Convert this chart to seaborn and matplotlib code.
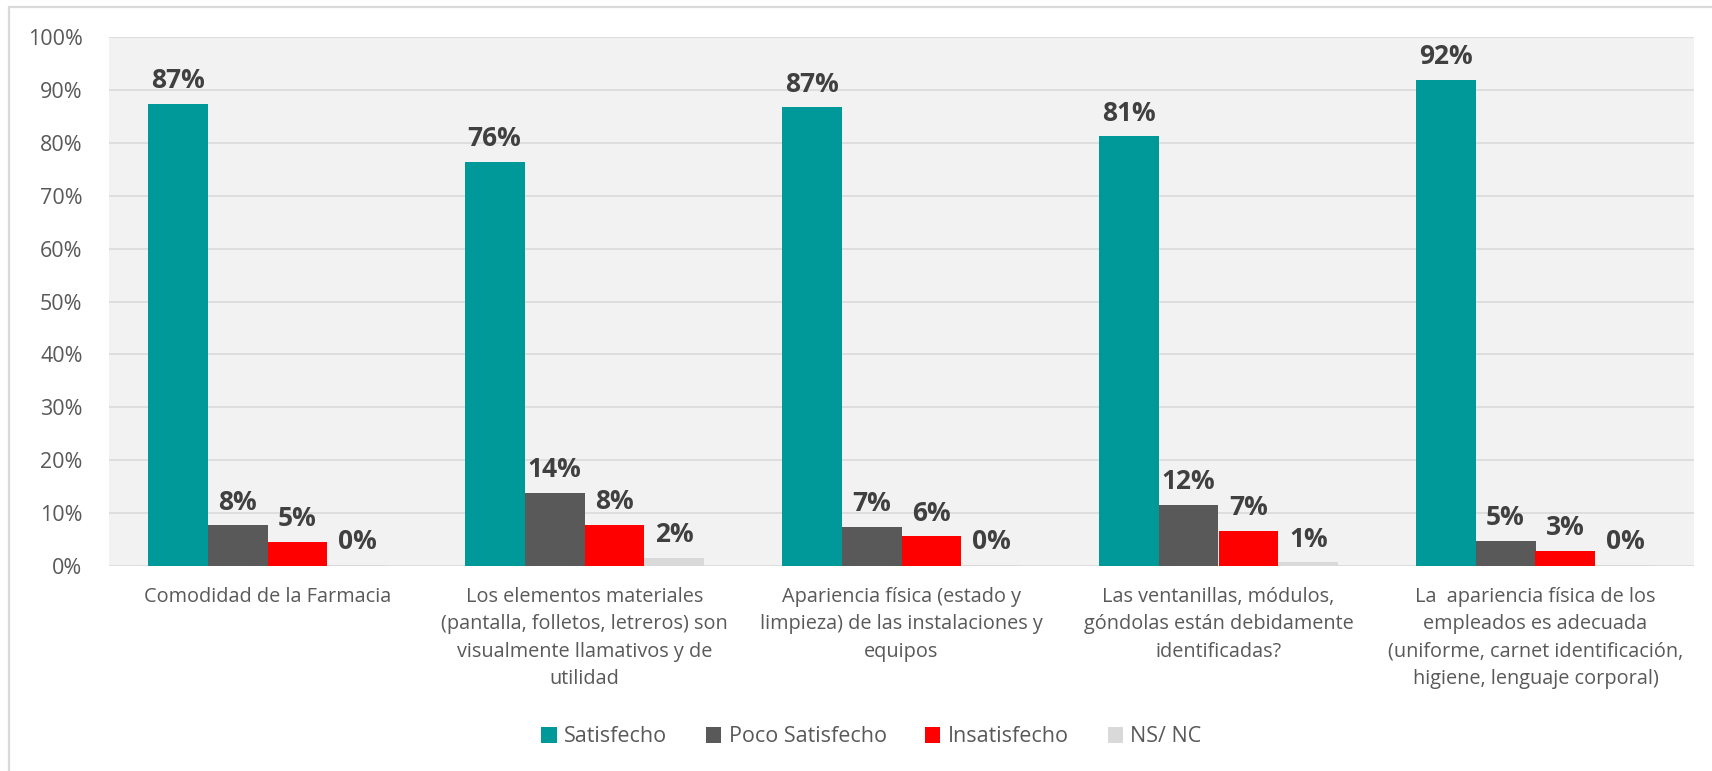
import matplotlib
matplotlib.use("Agg")
import matplotlib.pyplot as plt
from matplotlib.patches import Patch, Rectangle
from matplotlib.ticker import FuncFormatter
import pandas as pd
import seaborn as sns

# Survey items (category axis), wrapped as they appear under each group
categories = [
    "Comodidad de la Farmacia",
    "Los elementos materiales\n(pantalla, folletos, letreros) son\nvisualmente llamativos y de\nutilidad",
    "Apariencia física (estado y\nlimpieza) de las instalaciones y\nequipos",
    "Las ventanillas, módulos,\ngóndolas están debidamente\nidentificadas?",
    "La  apariencia física de los\nempleados es adecuada\n(uniforme, carnet identificación,\nhigiene, lenguaje corporal)",
]

series_names = ["Satisfecho", "Poco Satisfecho", "Insatisfecho", "NS/ NC"]

# Percent of respondents per answer
satisfecho = [87.3, 76.4, 86.7, 81.2, 91.9]
poco_satisfecho = [7.7, 13.8, 7.4, 11.5, 4.7]
insatisfecho = [4.6, 7.8, 5.6, 6.6, 2.9]
ns_nc = [0.2, 1.5, 0.2, 0.7, 0.2]

y_ticks = [0, 10, 20, 30, 40, 50, 60, 70, 80, 90, 100]

colors = ["#009999", "#595959", "#FF0000", "#D9D9D9"]

records = []
for name, vals in zip(series_names, [satisfecho, poco_satisfecho, insatisfecho, ns_nc]):
    for cat, v in zip(categories, vals):
        records.append({"Pregunta": cat, "Respuesta": name, "Porcentaje": v})
df = pd.DataFrame(records)

sns.set_theme(style="white")
plt.rcParams["font.family"] = ["Open Sans", "DejaVu Sans"]

W, H = 1712, 771
fig = plt.figure(figsize=(W / 100, H / 100), dpi=100)
ax = fig.add_axes([109 / W, 1 - 566 / H, (1694 - 109) / W, (566 - 37) / H])

sns.barplot(
    data=df, x="Pregunta", y="Porcentaje", hue="Respuesta",
    order=categories, hue_order=series_names, palette=colors,
    width=0.757, errorbar=None, saturation=1, ax=ax, legend=False,
    linewidth=0,
)

ax.set_facecolor("#F2F2F2")
ax.set_ylim(0, 100)
ax.set_xlim(-0.5, len(categories) - 0.5)
ax.set_yticks(y_ticks)
ax.yaxis.set_major_formatter(FuncFormatter(lambda v, _: f"{v:.0f}%"))
ax.grid(axis="y", color="#D9D9D9", linewidth=1.1)
ax.grid(axis="x", visible=False)
ax.set_axisbelow(True)
for s in ax.spines.values():
    s.set_visible(False)
ax.set_xlabel("")
ax.set_ylabel("")
ax.tick_params(axis="y", length=0, pad=19, labelsize=15.5, labelcolor="#595959")
ax.tick_params(axis="x", length=0, pad=15, labelsize=14.3, labelcolor="#595959")
for lbl in ax.get_xticklabels():
    lbl.set_linespacing(1.5)
    lbl.set_horizontalalignment("center")

# Value labels above each bar
for cont in ax.containers:
    vals = [b.get_height() for b in cont]
    ax.bar_label(cont, labels=[f"{v:.0f}%" for v in vals], padding=7,
                 fontsize=19, fontweight="bold", color="#404040")

handles = [Patch(facecolor=c, edgecolor="none", label=n) for c, n in zip(colors, series_names)]
fig.legend(handles=handles, loc="center", bbox_to_anchor=(871.5 / W, 1 - 737 / H),
           ncol=4, frameon=False, fontsize=15.5, labelcolor="#595959",
           handlelength=0.7, handleheight=0.7, handletextpad=0.35,
           columnspacing=1.8)

# Chart frame
fig.patches.append(Rectangle((9 / W, -0.1), 1.2, (1 - 7.5 / H) + 0.1,
                             transform=fig.transFigure, fill=False,
                             edgecolor="#D9D9D9", linewidth=1.6))

fig.savefig("out.png", dpi=100, facecolor="white")
